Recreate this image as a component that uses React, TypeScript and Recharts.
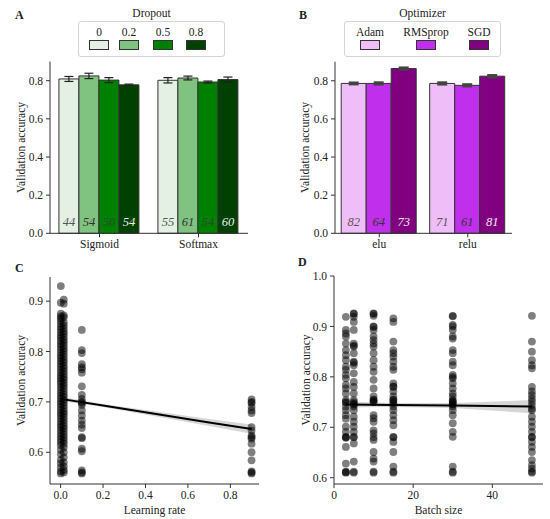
import {
  Area,
  Bar,
  BarChart,
  ComposedChart,
  ErrorBar,
  LabelList,
  Legend,
  Line,
  Scatter,
  XAxis,
  YAxis,
} from "recharts";

const FONT = '"Liberation Serif", "Times New Roman", Tinos, Times, "Noto Serif", "DejaVu Serif", serif';
const INK = "#222";

// ---- panel A: activation x dropout ----
const activationsA = ["Sigmoid", "Softmax"];
const dropoutLabels = ["0", "0.2", "0.5", "0.8"];
const dropoutColors = ["#e3f0e3", "#80c280", "#008000", "#004000"];
const dropoutText = ["#555", "#333", "#2b4a2b", "#eee"];
const accDrop0 = [0.809, 0.802];
const accDrop2 = [0.825, 0.814];
const accDrop5 = [0.803, 0.793];
const accDrop8 = [0.778, 0.806];
const errDrop0 = [0.013, 0.014];
const errDrop2 = [0.014, 0.01];
const errDrop5 = [0.013, 0.005];
const errDrop8 = [0.004, 0.013];
const nDrop0 = [44, 55];
const nDrop2 = [54, 61];
const nDrop5 = [50, 54];
const nDrop8 = [54, 60];

// ---- panel B: activation x optimizer ----
const activationsB = ["elu", "relu"];
const optimizerLabels = ["Adam", "RMSprop", "SGD"];
const optimizerColors = ["#efbdf8", "#c030ec", "#800080"];
const optimizerText = ["#555", "#333", "#eee"];
const accAdam = [0.786, 0.786];
const accRms = [0.786, 0.776];
const accSgd = [0.864, 0.824];
const errAdam = [0.005, 0.006];
const errRms = [0.006, 0.006];
const errSgd = [0.006, 0.006];
const nAdam = [82, 71];
const nRms = [64, 61];
const nSgd = [73, 81];

// ---- panel C: learning rate scatter ----
const accLr0001 = [
  0.93, 0.897, 0.875, 0.87, 0.866, 0.861, 0.855, 0.849, 0.844, 0.838, 0.832, 0.827, 0.821, 0.815,
  0.81, 0.804, 0.798, 0.792, 0.787, 0.781, 0.776, 0.77, 0.764, 0.758, 0.752, 0.747, 0.741, 0.736,
  0.73, 0.724, 0.718, 0.712, 0.707, 0.701, 0.696, 0.69, 0.684, 0.678, 0.673, 0.667, 0.661, 0.655,
  0.65, 0.644, 0.638, 0.632, 0.626, 0.62, 0.614, 0.605, 0.596, 0.585, 0.578, 0.57, 0.562, 0.558,
];
const accLr001 = [
  0.903, 0.895, 0.872, 0.868, 0.858, 0.852, 0.846, 0.84, 0.835, 0.829, 0.823, 0.818, 0.812, 0.806,
  0.801, 0.795, 0.789, 0.783, 0.778, 0.772, 0.767, 0.761, 0.755, 0.749, 0.744, 0.738, 0.733, 0.727,
  0.721, 0.715, 0.71, 0.704, 0.699, 0.693, 0.687, 0.681, 0.676, 0.67, 0.664, 0.658, 0.652, 0.647,
  0.641, 0.635, 0.629, 0.623, 0.617, 0.61, 0.6, 0.59, 0.58, 0.572, 0.565, 0.56,
];
const accLr01 = [
  0.843, 0.803, 0.797, 0.775, 0.769, 0.765, 0.758, 0.731, 0.714, 0.706, 0.7, 0.698, 0.694, 0.683,
  0.673, 0.663, 0.655, 0.648, 0.63, 0.628, 0.607, 0.602, 0.564, 0.56, 0.558,
];
const accLr09 = [
  0.705, 0.7, 0.698, 0.69, 0.683, 0.678, 0.65, 0.643, 0.633, 0.63, 0.627, 0.617, 0.6, 0.584, 0.562,
  0.56, 0.558,
];
const lrFitX = [0.001, 0.2, 0.45, 0.7, 0.9];
const lrFit = [0.706, 0.693, 0.676, 0.659, 0.646];
const lrLow = [0.702, 0.69, 0.671, 0.652, 0.637];
const lrHigh = [0.71, 0.696, 0.681, 0.666, 0.655];

// ---- panel D: batch size scatter ----
const accBs3 = [
  0.919, 0.893, 0.886, 0.88, 0.866, 0.853, 0.843, 0.833, 0.82, 0.814, 0.804, 0.797, 0.784, 0.777,
  0.767, 0.754, 0.75, 0.749, 0.741, 0.734, 0.724, 0.717, 0.701, 0.691, 0.681, 0.68, 0.679, 0.661,
  0.628, 0.612, 0.611, 0.61,
];
const accBs5 = [
  0.926, 0.925, 0.919, 0.909, 0.893, 0.866, 0.862, 0.86, 0.847, 0.83, 0.828, 0.823, 0.807, 0.79,
  0.78, 0.767, 0.754, 0.75, 0.747, 0.745, 0.741, 0.734, 0.721, 0.711, 0.701, 0.691, 0.681, 0.68,
  0.668, 0.632, 0.612, 0.61,
];
const accBs10 = [
  0.926, 0.925, 0.921, 0.9, 0.899, 0.893, 0.88, 0.873, 0.866, 0.86, 0.847, 0.833, 0.82, 0.81, 0.794,
  0.777, 0.761, 0.755, 0.754, 0.751, 0.75, 0.724, 0.718, 0.711, 0.694, 0.688, 0.68, 0.675, 0.651,
  0.638, 0.632, 0.612, 0.61,
];
const accBs15 = [
  0.916, 0.909, 0.87, 0.853, 0.847, 0.84, 0.83, 0.82, 0.814, 0.787, 0.781, 0.78, 0.771, 0.761,
  0.755, 0.754, 0.75, 0.747, 0.741, 0.734, 0.724, 0.714, 0.704, 0.681, 0.68, 0.671, 0.651, 0.622,
  0.612, 0.61,
];
const accBs30 = [
  0.921, 0.92, 0.903, 0.9, 0.893, 0.88, 0.876, 0.853, 0.847, 0.83, 0.823, 0.804, 0.8, 0.797, 0.787,
  0.777, 0.767, 0.761, 0.754, 0.752, 0.75, 0.747, 0.745, 0.741, 0.734, 0.724, 0.708, 0.691, 0.681,
  0.622, 0.612, 0.61,
];
const accBs50 = [
  0.921, 0.87, 0.85, 0.833, 0.823, 0.817, 0.78, 0.771, 0.764, 0.757, 0.751, 0.744, 0.737, 0.734,
  0.721, 0.711, 0.701, 0.691, 0.681, 0.68, 0.671, 0.661, 0.651, 0.635, 0.625, 0.618, 0.612, 0.61,
];
const bsFitX = [3, 15, 30, 50];
const bsFit = [0.745, 0.744, 0.743, 0.741];
const bsLow = [0.739, 0.74, 0.738, 0.728];
const bsHigh = [0.751, 0.748, 0.748, 0.754];

// tables built from the arrays above
const rowsA = activationsA.map((cat, i) => ({
  cat,
  v0: accDrop0[i], e0: errDrop0[i], n0: nDrop0[i],
  v1: accDrop2[i], e1: errDrop2[i], n1: nDrop2[i],
  v2: accDrop5[i], e2: errDrop5[i], n2: nDrop5[i],
  v3: accDrop8[i], e3: errDrop8[i], n3: nDrop8[i],
}));
const rowsB = activationsB.map((cat, i) => ({
  cat,
  v0: accAdam[i], e0: errAdam[i], n0: nAdam[i],
  v1: accRms[i], e1: errRms[i], n1: nRms[i],
  v2: accSgd[i], e2: errSgd[i], n2: nSgd[i],
}));

const toPoints = (x: number, ys: number[]) => ys.map((y) => ({ x, y }));
const pointsC = [
  ...toPoints(0.001, accLr0001),
  ...toPoints(0.015, accLr001),
  ...toPoints(0.1, accLr01),
  ...toPoints(0.9, accLr09),
];
const pointsD = [
  ...toPoints(3, accBs3),
  ...toPoints(5, accBs5),
  ...toPoints(10, accBs10),
  ...toPoints(15, accBs15),
  ...toPoints(30, accBs30),
  ...toPoints(50, accBs50),
];
const fitC = lrFitX.map((x, i) => ({ x, fit: lrFit[i], band: [lrLow[i], lrHigh[i]] }));
const fitD = bsFitX.map((x, i) => ({ x, fit: bsFit[i], band: [bsLow[i], bsHigh[i]] }));

const FS = 11.5;
const textStyle = { fontFamily: FONT, fontSize: FS, fill: INK };
const axisStyle = { stroke: "#333", strokeWidth: 1 };

// custom tick renderers so the serif face is applied through CSS
const xTick = (fmt: (v: any) => string) => (t: any) => (
  <text x={t.x} y={t.y} dy="0.75em" textAnchor="middle" style={textStyle}>
    {fmt(t.payload.value)}
  </text>
);
const yTick = (t: any) => (
  <text x={t.x} y={t.y} dy="0.36em" textAnchor="end" style={textStyle}>
    {Number(t.payload.value).toFixed(1)}
  </text>
);

const yLabel = (offset: number) => ({
  value: "Validation accuracy",
  angle: -90,
  position: "insideLeft" as const,
  offset,
  style: { textAnchor: "middle", ...textStyle },
});

type BarPanelProps = {
  rows: any[];
  labels: string[];
  colors: string[];
  textColors: string[];
  title: string;
  centers: number[];
  legendLeft: number;
  legendWidth: number;
  margin: { top: number; right: number; bottom: number; left: number };
  yWidth: number;
  labelOffset: number;
  gap: string;
  errColor: string;
  errStroke: number;
  errHalf: number;
};

function BarPanel(p: BarPanelProps) {
  const legend = () => (
    <div style={{ position: "relative", width: p.legendWidth, height: 52, fontFamily: FONT, fontSize: FS, color: INK }}>
      <div style={{ position: "absolute", top: 0, left: 0, width: "100%", textAlign: "center", lineHeight: "16px" }}>
        {p.title}
      </div>
      <div
        style={{
          position: "absolute",
          top: 16,
          left: 0,
          width: p.legendWidth,
          height: 36,
          boxSizing: "border-box",
          border: "1px solid #d4d4d4",
          borderRadius: 3,
        }}
      >
        {p.labels.map((lab, i) => (
          <div
            key={lab}
            style={{ position: "absolute", left: p.centers[i] - 30, width: 60, top: 4, textAlign: "center" }}
          >
            <div style={{ lineHeight: "12px" }}>{lab}</div>
            <div
              style={{
                width: 20,
                height: 10,
                margin: "2px auto 0",
                background: p.colors[i],
                border: "1px solid #333",
                boxSizing: "border-box",
              }}
            />
          </div>
        ))}
      </div>
    </div>
  );

  return (
    <BarChart width={275} height={260} data={p.rows} margin={p.margin} barCategoryGap={p.gap} barGap={0}>
      <XAxis
        dataKey="cat"
        tick={xTick((v) => String(v))}
        axisLine={axisStyle}
        tickLine={axisStyle}
        tickSize={4}
        height={22}
      />
      <YAxis
        type="number"
        domain={[0, 0.9]}
        ticks={[0, 0.2, 0.4, 0.6, 0.8]}
        tick={yTick}
        axisLine={axisStyle}
        tickLine={axisStyle}
        tickSize={4}
        tickMargin={3}
        width={p.yWidth}
        label={yLabel(p.labelOffset)}
      />
      <Legend
        layout="horizontal"
        verticalAlign="middle"
        align="center"
        content={legend}
        wrapperStyle={{ top: 5, left: p.legendLeft, width: p.legendWidth, height: 52 }}
      />
      {p.labels.map((lab, i) => (
        <Bar
          key={lab}
          dataKey={`v${i}`}
          name={lab}
          fill={p.colors[i]}
          stroke="#333"
          strokeWidth={1}
          isAnimationActive={false}
        >
          <ErrorBar
            dataKey={`e${i}`}
            width={p.errHalf}
            stroke={p.errColor}
            strokeWidth={p.errStroke}
            direction="y"
          />
          <LabelList
            dataKey={`n${i}`}
            content={(lp: any) => (
              <text
                x={Number(lp.x) + Number(lp.width) / 2}
                y={Number(lp.y) + Number(lp.height) - 11}
                textAnchor="middle"
                dominantBaseline="central"
                style={{ fontFamily: FONT, fontStyle: "italic", fontSize: 12.5, fill: p.textColors[i] }}
              >
                {lp.value}
              </text>
            )}
          />
        </Bar>
      ))}
    </BarChart>
  );
}

const dot = (props: any) => (
  <circle cx={props.cx} cy={props.cy} r={3.9} fill="#000" fillOpacity={0.5} />
);

type ScatterPanelProps = {
  points: { x: number; y: number }[];
  fit: any[];
  xDomain: [number, number];
  xTicks: number[];
  xFmt: (v: number) => string;
  yDomain: [number, number];
  yTicks: number[];
  xLabel: string;
  margin: { top: number; right: number; bottom: number; left: number };
  yWidth: number;
  labelOffset: number;
};

function ScatterPanel(p: ScatterPanelProps) {
  return (
    <ComposedChart width={275} height={264} data={p.fit} margin={p.margin}>
      <XAxis
        type="number"
        dataKey="x"
        domain={p.xDomain}
        ticks={p.xTicks}
        allowDataOverflow
        tick={xTick((v) => p.xFmt(Number(v)))}
        axisLine={axisStyle}
        tickLine={axisStyle}
        tickSize={4}
        height={30}
        label={{
          value: p.xLabel,
          position: "insideBottom",
          offset: 0,
          style: textStyle,
        }}
      />
      <YAxis
        type="number"
        domain={p.yDomain}
        ticks={p.yTicks}
        allowDataOverflow
        tick={yTick}
        axisLine={axisStyle}
        tickLine={axisStyle}
        tickSize={4}
        tickMargin={3}
        width={p.yWidth}
        label={yLabel(p.labelOffset)}
      />
      <Scatter data={p.points} dataKey="y" shape={dot} isAnimationActive={false} />
      <Area
        type="linear"
        dataKey="band"
        fill="#8a8a8a"
        fillOpacity={0.35}
        stroke="none"
        isAnimationActive={false}
      />
      <Line
        type="linear"
        dataKey="fit"
        stroke="#000"
        strokeWidth={2}
        dot={false}
        isAnimationActive={false}
      />
    </ComposedChart>
  );
}

const letter = (txt: string, left: number, top: number) => (
  <div
    style={{
      position: "absolute",
      left,
      top,
      fontFamily: FONT,
      fontWeight: "bold",
      fontSize: 12,
      lineHeight: "14px",
      color: INK,
    }}
  >
    {txt}
  </div>
);

export default function App() {
  return (
    <div style={{ position: "absolute", left: 0, top: 0, width: 550, height: 519, background: "#fff", fontFamily: FONT }}>
      <div style={{ position: "absolute", left: 0, top: 0 }}>
        <BarPanel
          rows={rowsA}
          labels={dropoutLabels}
          colors={dropoutColors}
          textColors={dropoutText}
          title="Dropout"
          centers={[20, 50, 84, 117]}
          legendLeft={78}
          legendWidth={147}
          margin={{ top: 61.6, right: 27, bottom: 4.7, left: 10 }}
          yWidth={40}
          labelOffset={10.7}
          gap="9%"
          errColor="#222"
          errStroke={1.2}
          errHalf={4.5}
        />
      </div>
      <div style={{ position: "absolute", left: 275, top: 0 }}>
        <BarPanel
          rows={rowsB}
          labels={optimizerLabels}
          colors={optimizerColors}
          textColors={optimizerText}
          title="Optimizer"
          centers={[25, 81, 134]}
          legendLeft={69}
          legendWidth={157}
          margin={{ top: 61.7, right: 38, bottom: 4.7, left: 10 }}
          yWidth={50}
          labelOffset={20}
          gap="7%"
          errColor="#444"
          errStroke={2}
          errHalf={5}
        />
      </div>
      <div style={{ position: "absolute", left: 0, top: 255 }}>
        <ScatterPanel
          points={pointsC}
          fit={fitC}
          xDomain={[-0.05, 0.935]}
          xTicks={[0, 0.2, 0.4, 0.6, 0.8]}
          xFmt={(v) => v.toFixed(1)}
          yDomain={[0.537, 0.948]}
          yTicks={[0.6, 0.7, 0.8, 0.9]}
          xLabel="Learning rate"
          margin={{ top: 22, right: 16, bottom: 5, left: 10 }}
          yWidth={40}
          labelOffset={10.7}
        />
      </div>
      <div style={{ position: "absolute", left: 275, top: 255 }}>
        <ScatterPanel
          points={pointsD}
          fit={fitD}
          xDomain={[0, 52.8]}
          xTicks={[0, 20, 40]}
          xFmt={(v) => String(v)}
          yDomain={[0.5875, 1.0]}
          yTicks={[0.6, 0.7, 0.8, 0.9, 1.0]}
          xLabel="Batch size"
          margin={{ top: 21, right: 7, bottom: 5, left: 10 }}
          yWidth={49}
          labelOffset={20.7}
        />
      </div>
      {letter("A", 15, 8)}
      {letter("B", 299, 8)}
      {letter("C", 15, 261)}
      {letter("D", 298, 255)}
    </div>
  );
}
